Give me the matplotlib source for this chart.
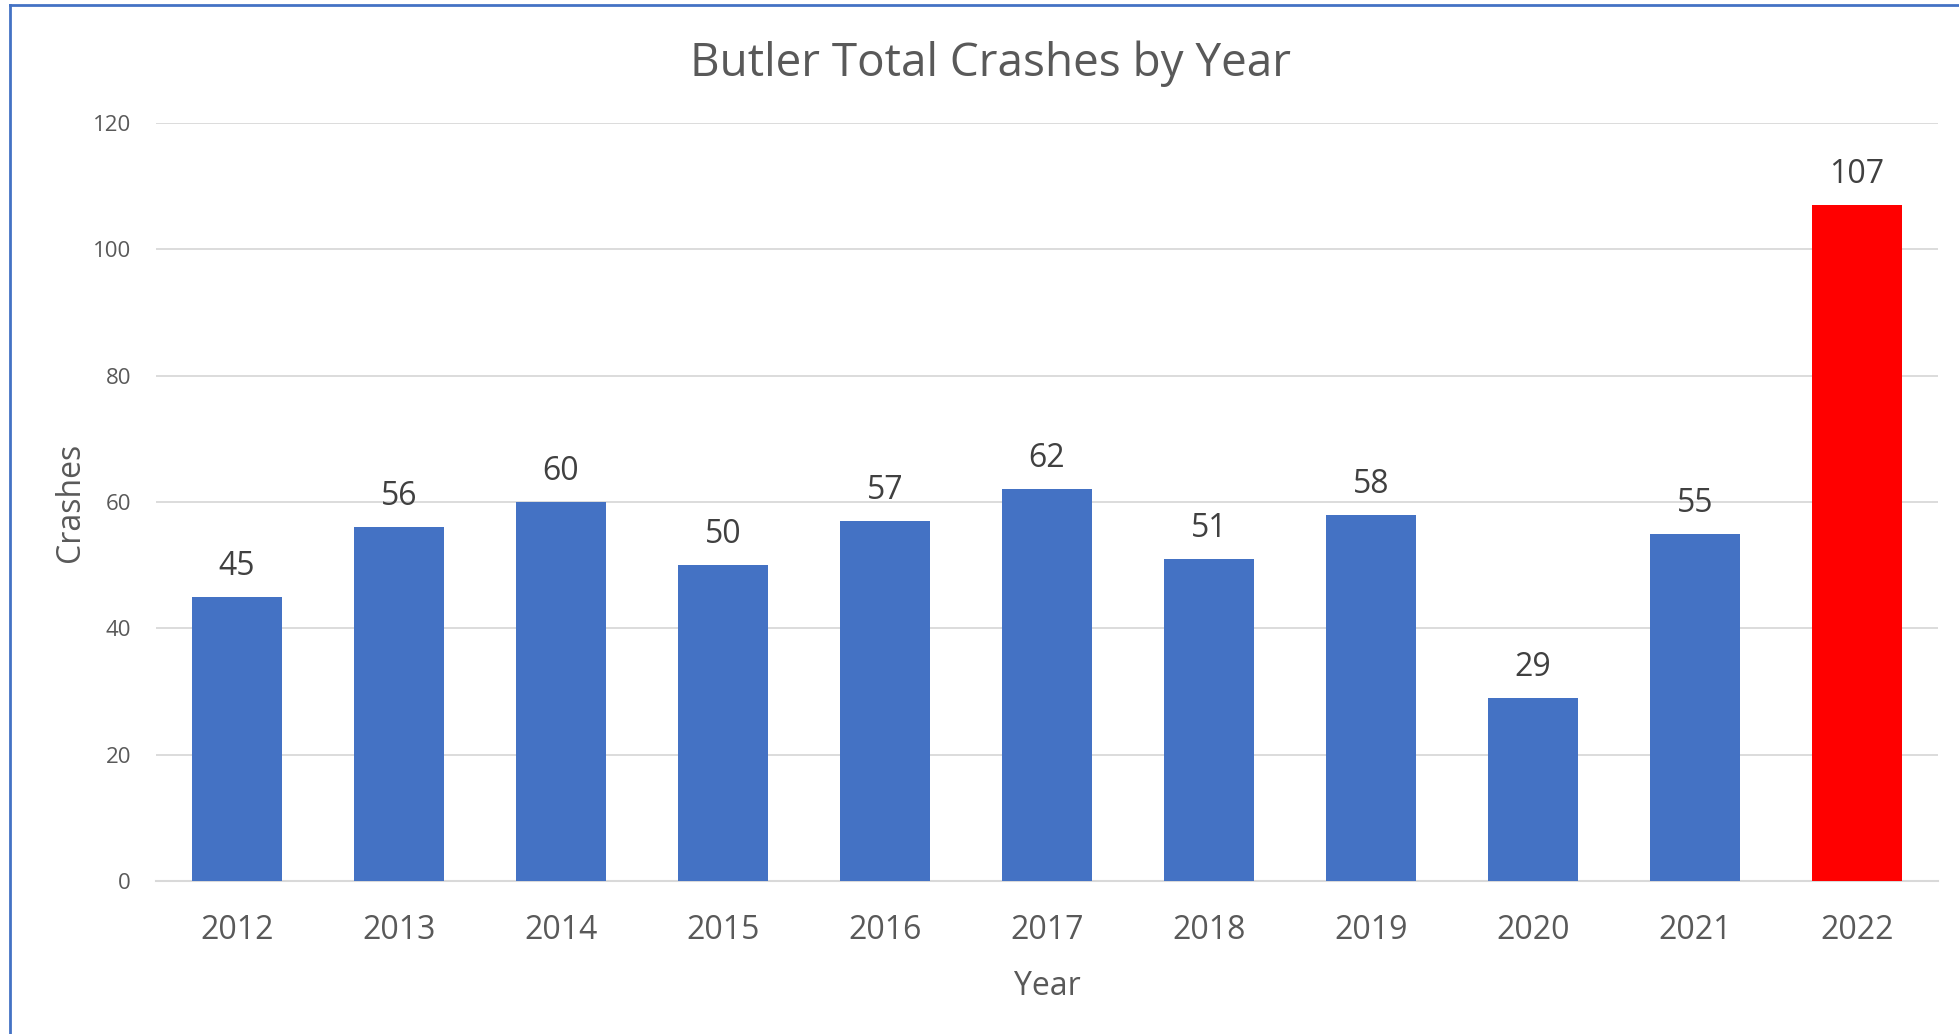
import matplotlib.pyplot as plt
from matplotlib.lines import Line2D

# Data
years = ['2012', '2013', '2014', '2015', '2016', '2017', '2018', '2019', '2020', '2021', '2022']
crashes = [45, 56, 60, 50, 57, 62, 51, 58, 29, 55, 107]
highlight_year = '2022'
y_ticks = [0, 20, 40, 60, 80, 100, 120]

plt.rcParams['font.family'] = ['Open Sans', 'DejaVu Sans']

fig = plt.figure(figsize=(19.59, 10.34), dpi=100)
ax = fig.add_axes([0.0796, 0.148, 0.9097, 0.733])

colors = ['#FF0000' if y == highlight_year else '#4472C4' for y in years]
x = range(len(years))
bars = ax.bar(x, crashes, width=0.56, color=colors, zorder=3)

# value labels above each bar
for xi, v in zip(x, crashes):
    ax.annotate(str(v), (xi, v), xytext=(0, 10), textcoords='offset points',
                ha='center', va='bottom', fontsize=23, color='#404040')

ax.set_xlim(-0.5, len(years) - 0.5)
ax.set_ylim(0, 120)
ax.set_yticks(y_ticks)
ax.set_xticks(list(x))
ax.set_xticklabels(years)
ax.tick_params(axis='x', length=0, pad=24, labelsize=23, labelcolor='#595959')
ax.tick_params(axis='y', length=0, pad=18, labelsize=16, labelcolor='#595959')

ax.grid(axis='y', color='#D9D9D9', linewidth=1.3, zorder=0)
for side in ['top', 'right', 'left']:
    ax.spines[side].set_visible(False)
ax.spines['bottom'].set_color('#D9D9D9')
ax.spines['bottom'].set_linewidth(1.5)

ax.set_xlabel('Year', fontsize=23, color='#595959', labelpad=16)
ax.set_ylabel('Crashes', fontsize=23, color='#595959', labelpad=4)

fig.text(0.5055, 0.938, 'Butler Total Crashes by Year', ha='center', va='center',
         fontsize=33, color='#595959')

# blue frame around the chart area (left and top edges visible)
fig.add_artist(Line2D([10 / 1959, 10 / 1959], [0, 1 - 5 / 1034], transform=fig.transFigure,
                      color='#4472C4', linewidth=2))
fig.add_artist(Line2D([10 / 1959, 1], [1 - 5 / 1034, 1 - 5 / 1034], transform=fig.transFigure,
                      color='#4472C4', linewidth=2))

fig.savefig('out.png', dpi=100, facecolor='white')
